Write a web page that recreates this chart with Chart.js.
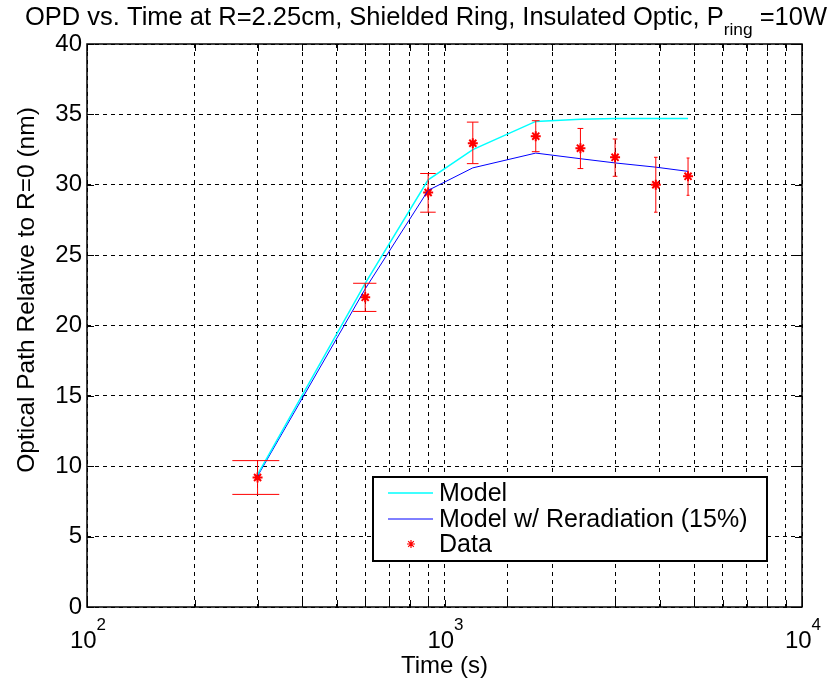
<!DOCTYPE html>
<html>
<head>
<meta charset="utf-8">
<script src="https://cdn.jsdelivr.net/npm/chart.js@4"></script>
<style>
  html, body { margin: 0; padding: 0; background: #fff; }
  #wrap { width: 834px; height: 683px; }
</style>
</head>
<body>
<div id="wrap"><canvas id="grafico" width="834" height="683"></canvas></div>
<script>
// tempos (s) e valores
const tempos = [300, 600, 900, 1200, 1800, 2400, 3000, 3900, 4800];
const modelo = [9.4, 23.0, 30.35, 32.5, 34.5, 34.65, 34.7, 34.7, 34.7];
const modeloRerad = [9.3, 22.6, 29.6, 31.2, 32.25, 31.85, 31.55, 31.25, 30.95];
const dados = [9.2, 22.0, 29.45, 32.95, 33.45, 32.6, 31.95, 30.0, 30.6];
const erroBaixo = [8.0, 21.0, 28.05, 31.5, 32.35, 31.15, 30.6, 28.05, 29.25];
const erroAlto = [10.4, 23.0, 30.8, 34.45, 34.55, 34.0, 33.25, 31.95, 31.9];
const yTicks = [0, 5, 10, 15, 20, 25, 30, 35, 40];
const xDecadas = [100, 1000, 10000];

const fonte = '"Liberation Sans", Arial, sans-serif';

// barras de erro estilo MATLAB (largura do "T" = range/100)
const barrasErro = {
  id: 'barrasErro',
  afterDatasetsDraw(chart) {
    const { ctx, scales: { x, y } } = chart;
    const tee = (Math.max(...tempos) - Math.min(...tempos)) / 100;
    ctx.save();
    ctx.strokeStyle = '#ff0000';
    ctx.lineWidth = 1;
    tempos.forEach((t, i) => {
      const px = x.getPixelForValue(t);
      const xl = x.getPixelForValue(t - tee);
      const xr = x.getPixelForValue(t + tee);
      const yl = y.getPixelForValue(erroBaixo[i]);
      const yh = y.getPixelForValue(erroAlto[i]);
      ctx.beginPath();
      ctx.moveTo(px, yl); ctx.lineTo(px, yh);
      ctx.moveTo(xl, yl); ctx.lineTo(xr, yl);
      ctx.moveTo(xl, yh); ctx.lineTo(xr, yh);
      ctx.stroke();
    });
    ctx.restore();
  }
};

// moldura, textos e legenda
const moldura = {
  id: 'moldura',
  afterDraw(chart) {
    const { ctx, chartArea: a, scales: { x, y } } = chart;
    ctx.save();

    // ticks para dentro
    ctx.strokeStyle = '#000';
    ctx.lineWidth = 1;
    ctx.beginPath();
    x.ticks.forEach(tk => {
      const px = Math.round(x.getPixelForValue(tk.value)) + 0.5;
      ctx.moveTo(px, a.bottom); ctx.lineTo(px, a.bottom - 7);
      ctx.moveTo(px, a.top); ctx.lineTo(px, a.top + 7);
    });
    yTicks.forEach(v => {
      const py = Math.round(y.getPixelForValue(v)) + 0.5;
      ctx.moveTo(a.left, py); ctx.lineTo(a.left + 7, py);
      ctx.moveTo(a.right, py); ctx.lineTo(a.right - 7, py);
    });
    ctx.stroke();

    ctx.lineWidth = 1.5;
    ctx.strokeRect(a.left, a.top, a.right - a.left, a.bottom - a.top);

    ctx.fillStyle = '#000';

    // rótulos do eixo x: 10^n
    xDecadas.forEach(v => {
      const px = x.getPixelForValue(v);
      const exp = String(Math.round(Math.log10(v)));
      ctx.font = '24px ' + fonte;
      const w1 = ctx.measureText('10').width;
      ctx.font = '17px ' + fonte;
      const w2 = ctx.measureText(exp).width;
      const x0 = px - (w1 + w2) / 2 + 1;
      ctx.textBaseline = 'alphabetic';
      ctx.textAlign = 'left';
      ctx.font = '24px ' + fonte;
      ctx.fillText('10', x0, 648);
      ctx.font = '17px ' + fonte;
      ctx.fillText(exp, x0 + w1, 630);
    });

    // título do eixo x
    ctx.font = '24px ' + fonte;
    ctx.textAlign = 'center';
    ctx.textBaseline = 'alphabetic';
    ctx.fillText('Time (s)', (a.left + a.right) / 2, 673);

    // título do eixo y
    ctx.save();
    ctx.translate(34, 290);
    ctx.rotate(-Math.PI / 2);
    ctx.font = '24.5px ' + fonte;
    ctx.fillText('Optical Path Relative to R=0 (nm)', 0, 0);
    ctx.restore();

    // título com subscrito
    const p1 = 'OPD vs. Time at R=2.25cm, Shielded Ring, Insulated Optic, P';
    const sub = 'ring';
    const p3 = ' =10W';
    ctx.textAlign = 'left';
    ctx.textBaseline = 'alphabetic';
    ctx.font = '25px ' + fonte;
    const w1 = ctx.measureText(p1).width;
    const w3 = ctx.measureText(p3).width;
    ctx.font = '17px ' + fonte;
    const w2 = ctx.measureText(sub).width;
    const total = w1 + w2 + w3;
    const esc = 802 / total;
    ctx.save();
    ctx.translate(25, 0);
    ctx.scale(esc, 1);
    ctx.font = '25px ' + fonte;
    ctx.fillText(p1, 0, 25);
    ctx.font = '17px ' + fonte;
    ctx.fillText(sub, w1, 35);
    ctx.font = '25px ' + fonte;
    ctx.fillText(p3, w1 + w2, 25);
    ctx.restore();

    // legenda
    const lx = 373, ly = 477, lw = 394, lh = 84;
    ctx.fillStyle = '#fff';
    ctx.fillRect(lx, ly, lw, lh);
    ctx.lineWidth = 2;
    ctx.strokeStyle = '#000';
    ctx.strokeRect(lx, ly, lw, lh);
    const itens = chart.data.datasets;
    const linhas = [493, 519, 544];
    itens.forEach((ds, i) => {
      const yy = linhas[i];
      if (ds.showLine === false) {
        ctx.save();
        ctx.strokeStyle = '#ff0000';
        ctx.lineWidth = 1.2;
        const cx = 411, r = 4;
        ctx.beginPath();
        for (let k = 0; k < 4; k++) {
          const ang = k * Math.PI / 4;
          ctx.moveTo(cx - r * Math.cos(ang), yy - r * Math.sin(ang));
          ctx.lineTo(cx + r * Math.cos(ang), yy + r * Math.sin(ang));
        }
        ctx.stroke();
        ctx.restore();
      } else {
        ctx.strokeStyle = ds.borderColor;
        ctx.lineWidth = ds.borderWidth;
        ctx.beginPath();
        ctx.moveTo(388, yy); ctx.lineTo(433, yy);
        ctx.stroke();
      }
      ctx.fillStyle = '#000';
      ctx.font = '25px ' + fonte;
      ctx.textBaseline = 'alphabetic';
      ctx.textAlign = 'left';
      ctx.fillText(ds.label, 439, yy + 8);
    });

    ctx.restore();
  }
};

const ctx = document.getElementById('grafico').getContext('2d');
new Chart(ctx, {
  type: 'line',
  data: {
    datasets: [
      {
        label: 'Model',
        data: tempos.map((t, i) => ({ x: t, y: modelo[i] })),
        borderColor: '#00ffff',
        borderWidth: 1.5,
        pointRadius: 0,
        tension: 0,
        fill: false
      },
      {
        label: 'Model w/ Reradiation (15%)',
        data: tempos.map((t, i) => ({ x: t, y: modeloRerad[i] })),
        borderColor: '#0000ff',
        borderWidth: 1,
        pointRadius: 0,
        tension: 0,
        fill: false
      },
      {
        label: 'Data',
        data: tempos.map((t, i) => ({ x: t, y: dados[i] })),
        showLine: false,
        pointStyle: 'star',
        pointRadius: 5,
        borderColor: '#ff0000',
        backgroundColor: '#ff0000',
        pointBorderWidth: 2
      }
    ]
  },
  options: {
    responsive: false,
    animation: false,
    layout: { padding: { top: 44, right: 32, left: 0, bottom: 0 } },
    plugins: {
      legend: { display: false },
      tooltip: { enabled: false },
      title: { display: false }
    },
    scales: {
      x: {
        type: 'logarithmic',
        min: 100,
        max: 10000,
        afterFit(s) { s.height = 76; },
        ticks: { display: false },
        grid: { color: '#000', lineWidth: 1, drawTicks: false },
        border: { display: false, dash: [4, 4] }
      },
      y: {
        min: 0,
        max: 40,
        afterFit(s) { s.width = 87; },
        afterBuildTicks(s) { s.ticks = yTicks.map(v => ({ value: v })); },
        ticks: {
          color: '#000',
          font: { family: fonte, size: 24 },
          padding: 5
        },
        grid: { color: '#000', lineWidth: 1, drawTicks: false },
        border: { display: false, dash: [4, 4] }
      }
    }
  },
  plugins: [barrasErro, moldura]
});
</script>
</body>
</html>
